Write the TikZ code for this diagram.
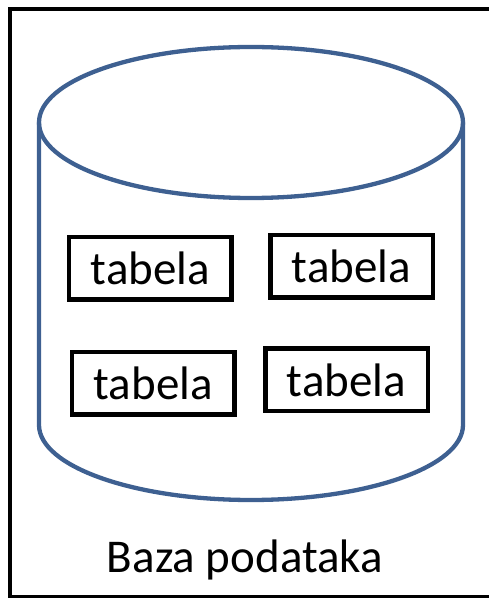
\documentclass[tikz,border=0pt]{standalone}
\usepackage{fontspec}
\setmainfont{Carlito}
\definecolor{cylblue}{RGB}{62,96,145}
\begin{document}
\begin{tikzpicture}[x=1pt,y=1pt,
  tablebox/.style={draw=black, line width=4.5pt, minimum width=162.5pt, minimum height=62.5pt, inner sep=0pt, font=\fontsize{47}{50}\selectfont},
  cyl/.style={draw=cylblue, line width=4.3pt}]
\useasboundingbox (0,0) rectangle (489,598);
% outer frame (right side falls outside the picture)
\draw[line width=4.3pt] (495,589) -- (10,589) -- (10,1) -- (495,1);
% cylinder
\draw[cyl] (39,475.5) -- (39,173) arc[start angle=180, end angle=360, x radius=212, y radius=75] -- (463,475.5);
\draw[cyl] (251,475.5) ellipse[x radius=212, y radius=75.5];
% tables
\node[tablebox] (t1) at (150.4,329.5) {tabela};
\node[tablebox] (t2) at (351.5,331.6) {tabela};
\node[tablebox] (t3) at (153.3,214.5) {tabela};
\node[tablebox] (t4) at (346.5,218.1) {tabela};
% label
\node[anchor=base, inner sep=0pt, font=\fontsize{47}{50}\selectfont] (lbl) at (245,25.3) {Baza podataka};
\end{tikzpicture}
\end{document}
